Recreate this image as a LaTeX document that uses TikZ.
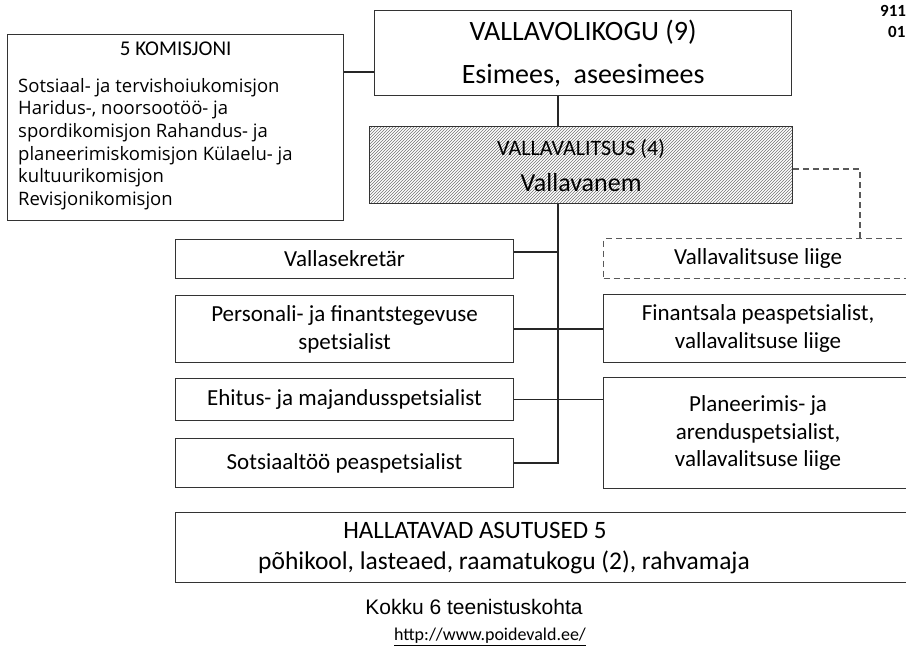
\documentclass[tikz,border=0pt]{standalone}
\usepackage{fontspec}
\setmainfont{Carlito}
\newfontfamily\komfont{Open Sans}
\newfontfamily\arialfont{Liberation Sans}
\usepackage{tikz}
\usetikzlibrary{positioning, patterns}

\begin{document}
\begin{tikzpicture}[x=1pt, y=-1pt, auto]
	\tikzstyle{box} = [rectangle, draw=black!80, line width=1.2pt, anchor=north west, inner sep=2pt, align=center, font=\fontsize{23}{28}\selectfont]
	\tikzstyle{conn} = [draw=black!85, line width=1.2pt]
	\tikzstyle{dconn} = [conn, draw=black!65, dash pattern=on 6pt off 4pt]
	\tikzstyle{note} = [inner sep=0pt]

	\useasboundingbox (0,0) rectangle (906,652);

	% volikogu ja komisjonid
	\node [box, minimum width=417pt, minimum height=85pt, font=\fontsize{28}{43}\selectfont] (volikogu) at (374,10) {VALLAVOLIKOGU (9)\\Esimees,\ \ aseesimees};
	\node [box, minimum width=336pt, minimum height=186pt] (komisjon) at (7,34) {};
	\node [note, font=\fontsize{21}{25}\selectfont, below=8pt of komisjon.north] (komhead) {5 KOMISJONI};
	\node [note, anchor=north west, align=left, font=\komfont\fontsize{18.5}{22.6}\selectfont] (komtext) at (18,78) {Sotsiaal- ja tervishoiukomisjon\\Haridus-, noorsootöö- ja\\spordikomisjon Rahandus- ja\\planeerimiskomisjon Külaelu- ja\\kultuurikomisjon\\Revisjonikomisjon};

	% valitsus
	\node [box, minimum width=423pt, minimum height=77pt, pattern=north east lines, pattern color=black!55, font=\fontsize{22}{36}\selectfont] (valitsus) at (369,126) {VALLAVALITSUS (4)\\{\fontsize{26}{36}\selectfont Vallavanem}};

	% vasak tulp
	\node [box, minimum width=338pt, minimum height=39pt] (sekretar) at (175,239) {Vallasekretär};
	\node [box, minimum width=338pt, minimum height=67pt] (personal) at (175,295) {Personali- ja finantstegevuse\\spetsialist};
	\node [box, minimum width=338pt, minimum height=42pt] (ehitus) at (175,378) {Ehitus- ja majandusspetsialist};
	\node [box, minimum width=338pt, minimum height=49pt] (sotsiaal) at (175,438) {Sotsiaaltöö peaspetsialist};

	% parem tulp
	\node [box, dashed, draw=black!65, dash pattern=on 6pt off 4pt, minimum width=309pt, minimum height=40pt] (liige) at (603,238) {Vallavalitsuse liige};
	\node [box, minimum width=309pt, minimum height=68pt] (finants) at (603,294) {Finantsala peaspetsialist,\\vallavalitsuse liige};
	\node [box, minimum width=309pt, minimum height=111pt, font=\fontsize{23}{27.5}\selectfont] (planeer) at (603,377) {Planeerimis- ja\\arenduspetsialist,\\vallavalitsuse liige};

	% asutused
	\node [box, minimum width=737pt, minimum height=70pt] (asutused) at (175,512) {};
	\node [note, font=\fontsize{25}{30}\selectfont] (asuthead) at (475,530) {HALLATAVAD ASUTUSED 5};
	\node [note, font=\fontsize{25.5}{30}\selectfont] (asutlist) at (504,562) {põhikool, lasteaed, raamatukogu (2), rahvamaja};
	\node [note, font=\arialfont\fontsize{21}{25}\selectfont] (kokku) at (474,607) {Kokku 6 teenistuskohta};
	\node [note, font=\fontsize{18}{22}\selectfont] (url) at (490,637) {\underline{http://www.poidevald.ee/}};
	\node [note, anchor=west, font=\bfseries\fontsize{17}{20}\selectfont] (kood) at (880,11) {911};
	\node [note, anchor=west, font=\bfseries\fontsize{17}{20}\selectfont] (kood2) at (888,32) {01};

	% yhendused
	\coordinate (spine) at (558,0);
	\coordinate (dashx) at (860,0);
	\draw [conn] ([yshift=-38pt]komisjon.north east) -- ([yshift=-38pt]komisjon.north east -| volikogu.west);
	\draw [conn] (spine |- volikogu.south) -- (spine |- valitsus.north);
	\draw [conn] (spine |- valitsus.south) -- (spine |- sotsiaal.east) -- (sotsiaal.east);
	\draw [conn] ([yshift=7pt]sekretar.east) -- ([yshift=7pt]sekretar.east -| spine);
	\draw [conn] (personal.east) -- (personal.east -| finants.west);
	\draw [conn] (ehitus.east) -- (ehitus.east -| planeer.west);
	\draw [dconn] ([yshift=-4pt]valitsus.east) -| (dashx |- liige.north);
\end{tikzpicture}
\end{document}
